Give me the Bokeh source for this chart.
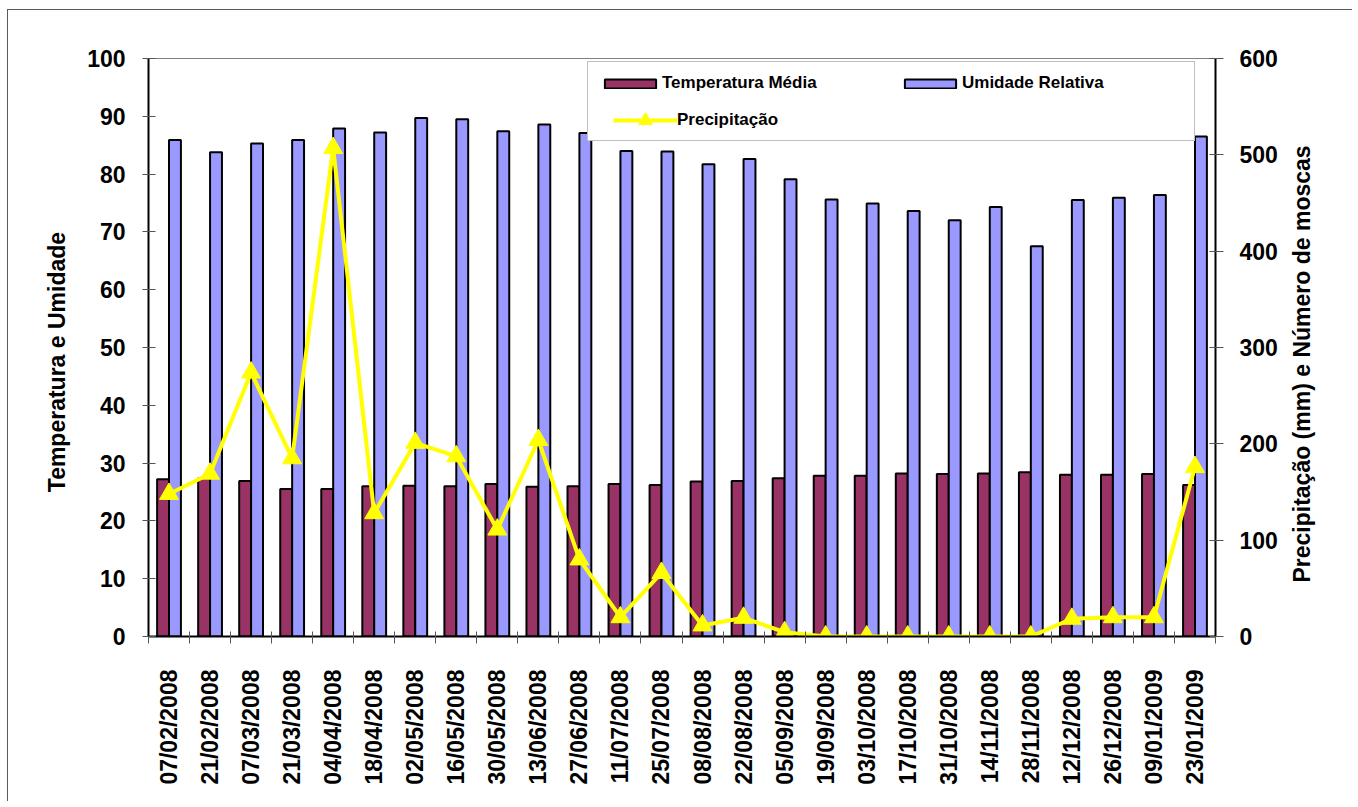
import math
from bokeh.plotting import figure
from bokeh.models import (ColumnDataSource, Range1d, LinearAxis, FixedTicker,
                          Legend, LegendItem)
from bokeh.transform import dodge
from bokeh.embed import file_html
from bokeh.resources import INLINE

dates = ["07/02/2008", "21/02/2008", "07/03/2008", "21/03/2008", "04/04/2008",
         "18/04/2008", "02/05/2008", "16/05/2008", "30/05/2008", "13/06/2008",
         "27/06/2008", "11/07/2008", "25/07/2008", "08/08/2008", "22/08/2008",
         "05/09/2008", "19/09/2008", "03/10/2008", "17/10/2008", "31/10/2008",
         "14/11/2008", "28/11/2008", "12/12/2008", "26/12/2008", "09/01/2009",
         "23/01/2009"]
temperatura = [27.2, 27.4, 26.9, 25.5, 25.5, 26.0, 26.1, 26.0, 26.4, 25.9,
               26.0, 26.4, 26.2, 26.8, 26.9, 27.4, 27.8, 27.8, 28.2, 28.1,
               28.2, 28.4, 28.0, 28.0, 28.1, 26.2]
umidade = [85.9, 83.8, 85.3, 85.9, 87.9, 87.2, 89.7, 89.5, 87.4, 88.6,
           87.1, 84.0, 83.9, 81.7, 82.6, 79.1, 75.6, 74.9, 73.6, 72.0,
           74.3, 67.5, 75.5, 75.9, 76.4, 86.5]
precipitacao = [148, 169, 274, 185, 507, 128, 201, 187, 111, 204,
                80, 20, 66, 11.5, 19.4, 4.5, 0, 0, 0, 0,
                0, 0, 18.4, 20, 20, 176]
left_ticks = [0, 10, 20, 30, 40, 50, 60, 70, 80, 90, 100]
right_ticks = [0, 100, 200, 300, 400, 500, 600]
left_title = "Temperatura e Umidade"
right_title = "Precipitação (mm) e Número de moscas"

FONT = "Liberation Sans"
TEMP_COLOR = "#993366"
UMID_COLOR = "#9999FF"
PREC_COLOR = "#FFFF00"

n = len(dates)
idx = list(range(n))
src = ColumnDataSource(dict(x=idx, temp=temperatura, umid=umidade, prec=precipitacao))

# canvas starts at (8, 10) on the page, after a 1px chart-area border
W, H = 1345, 792
FL, FT, FW, FH = 140, 48, 1067, 578
p = figure(width=W, height=H, output_backend="svg", toolbar_location=None,
           x_range=Range1d(-0.5, n - 0.5), y_range=Range1d(0, 100),
           min_border_left=FL, min_border_top=FT,
           min_border_right=W - FL - FW, min_border_bottom=H - FT - FH)
p.styles = {"margin-left": "7px", "margin-top": "9px",
            "border-top": "1px solid #5a5a5a", "border-left": "1px solid #5a5a5a"}
p.extra_y_ranges = {"right": Range1d(0, 600)}
p.xgrid.visible = False
p.ygrid.visible = False
p.background_fill_color = "white"
p.border_fill_color = "white"
p.outline_line_color = "#808080"
p.outline_line_width = 1

bw = 0.29
r_t = p.vbar(x=dodge("x", -bw / 2, range=p.x_range), top="temp", width=bw, bottom=0,
             source=src, fill_color=TEMP_COLOR, line_color="black", line_width=2)
r_u = p.vbar(x=dodge("x", bw / 2, range=p.x_range), top="umid", width=bw, bottom=0,
             source=src, fill_color=UMID_COLOR, line_color="black", line_width=2)
r_l = p.line(x="x", y="prec", source=src, y_range_name="right",
             line_color=PREC_COLOR, line_width=4)
r_m = p.scatter(x="x", y="prec", source=src, y_range_name="right", marker="triangle",
                size=19, fill_color=PREC_COLOR, line_color=PREC_COLOR)
r_dummy = p.vbar(x=[], top=[], width=0.1, fill_alpha=0, line_alpha=0)

def style_axis(ax):
    ax.axis_line_color = "black"
    ax.axis_line_width = 2
    ax.major_label_text_font = FONT
    ax.major_label_text_font_style = "bold"
    ax.major_label_text_font_size = "23px"
    ax.major_label_text_color = "black"
    ax.axis_label_text_font = FONT
    ax.axis_label_text_font_style = "bold"
    ax.axis_label_text_font_size = "23px"
    ax.axis_label_text_color = "black"
    ax.major_tick_line_color = "#555555"
    ax.minor_tick_line_color = "#555555"

def title_axis(range_name, pos, text, standoff):
    # a bare axis whose single rotated label acts as the axis title
    kw = {} if range_name is None else {"y_range_name": range_name}
    ax = LinearAxis(ticker=FixedTicker(ticks=[pos]), **kw)
    style_axis(ax)
    ax.axis_line_color = None
    ax.major_tick_in = 0
    ax.major_tick_out = 0
    ax.minor_tick_in = 0
    ax.minor_tick_out = 0
    ax.major_label_overrides = {pos: text}
    ax.major_label_orientation = math.pi / 2
    ax.major_label_standoff = standoff
    return ax

# bottom axis
xa = p.xaxis[0]
style_axis(xa)
xa.ticker = FixedTicker(ticks=idx, minor_ticks=[i - 0.5 for i in range(n + 1)])
xa.major_label_overrides = {i: d for i, d in enumerate(dates)}
xa.major_tick_in = 0
xa.major_tick_out = 0
xa.minor_tick_in = 5
xa.minor_tick_out = 7
xa.major_label_orientation = math.pi / 2
xa.major_label_standoff = 26

# left axis
ya = p.yaxis[0]
style_axis(ya)
ya.ticker = FixedTicker(ticks=left_ticks)
ya.major_tick_in = 7
ya.major_tick_out = 6
ya.minor_tick_in = 0
ya.minor_tick_out = 0
ya.major_label_standoff = 17

# left title (its upper end sits at the given position of the left scale)
p.add_layout(title_axis(None, 70, left_title, 27), "left")

# right axis
ra = LinearAxis(y_range_name="right", ticker=FixedTicker(ticks=right_ticks))
style_axis(ra)
ra.major_tick_in = 6
ra.major_tick_out = 8
ra.minor_tick_in = 0
ra.minor_tick_out = 0
ra.major_label_standoff = 16
p.add_layout(ra, "right")

# right title (its lower end sits at the given position of the right scale)
p.add_layout(title_axis("right", 56, right_title, 22), "right")

# legend: bars (2 columns) + invisible slot, with frame
leg_a = Legend(items=[LegendItem(label="Temperatura Média", renderers=[r_t]),
                      LegendItem(label="Umidade Relativa", renderers=[r_u]),
                      LegendItem(label=" ", renderers=[r_dummy])],
               location=(439, 495), orientation="horizontal", ncols=2,
               glyph_width=64, glyph_height=11, label_width=222, label_height=22,
               label_standoff=0, spacing=14, padding=10, margin=0,
               border_line_color="#808080", border_line_width=1,
               background_fill_color="white", background_fill_alpha=1,
               label_text_font=FONT, label_text_font_style="bold",
               label_text_font_size="17px", label_text_color="black")
p.add_layout(leg_a)

leg_b = Legend(items=[LegendItem(label="Precipitação", renderers=[r_l, r_m])],
               location=(465, 499), orientation="vertical",
               glyph_width=64, glyph_height=34, label_standoff=0, padding=0,
               margin=0, border_line_alpha=0, background_fill_alpha=0,
               label_text_font=FONT, label_text_font_style="bold",
               label_text_font_size="17px", label_text_color="black")
p.add_layout(leg_b)

open("out.html", "w").write(file_html(p, INLINE))
